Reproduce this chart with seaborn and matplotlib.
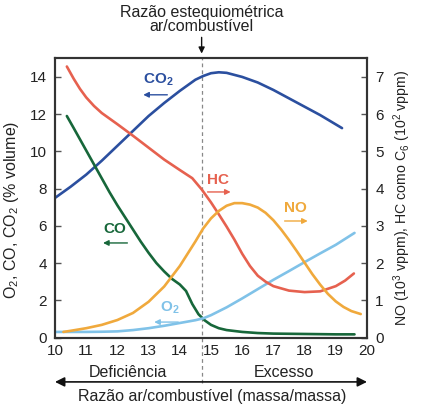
"""Gases de exaustão vs razão ar/combustível."""

import seaborn as sns
import matplotlib.pyplot as plt
import pandas as pd
import numpy as np

sns.set_theme(style="white")
plt.rcParams['font.family'] = ['Liberation Sans', 'DejaVu Sans']
plt.rcParams['mathtext.fontset'] = 'custom'
plt.rcParams['mathtext.rm'] = 'Liberation Sans'
plt.rcParams['mathtext.it'] = 'Liberation Sans:italic'
plt.rcParams['mathtext.bf'] = 'Liberation Sans:bold'

# ── dados ───────────────────────────────────────────────
# eixo esquerdo (% volume)
co2_x = [10.0, 10.5, 11.0, 11.5, 12.0, 12.5, 13.0, 13.5, 14.0, 14.5, 14.75,
         15.0, 15.25, 15.5, 16.0, 16.5, 17.0, 17.5, 18.0, 18.5, 19.0, 19.2]
co2_y = [7.5, 8.1, 8.75, 9.5, 10.3, 11.1, 11.9, 12.6, 13.25, 13.85, 14.05,
         14.2, 14.25, 14.22, 14.0, 13.7, 13.3, 12.85, 12.4, 11.95, 11.45, 11.25]

co_x = [10.38, 10.6, 10.8, 11.0, 11.25, 11.5, 11.75, 12.0, 12.25, 12.5, 12.75,
        13.0, 13.25, 13.5, 13.75, 14.0, 14.2, 14.4, 14.6, 14.8, 15.0, 15.25,
        15.5, 16.0, 16.5, 17.0, 18.0, 19.0, 19.6]
co_y = [11.9, 11.25, 10.65, 10.05, 9.3, 8.55, 7.8, 7.1, 6.45, 5.8, 5.15,
        4.55, 4.0, 3.55, 3.15, 2.85, 2.5, 1.8, 1.25, 0.92, 0.68, 0.5,
        0.4, 0.3, 0.24, 0.21, 0.19, 0.17, 0.17]

o2_x = [10.0, 10.5, 11.0, 11.5, 12.0, 12.5, 13.0, 13.5, 14.0, 14.5, 14.75,
        15.0, 15.5, 16.0, 16.5, 17.0, 17.5, 18.0, 18.5, 19.0, 19.6]
o2_y = [0.3, 0.3, 0.3, 0.31, 0.33, 0.4, 0.5, 0.63, 0.78, 0.93, 1.03,
        1.2, 1.62, 2.1, 2.6, 3.1, 3.57, 4.05, 4.52, 4.98, 5.62]

# eixo direito: HC (10^2 vppm) e NO (10^3 vppm)
hc_x = [10.38, 10.6, 10.8, 11.0, 11.25, 11.5, 12.0, 12.5, 13.0, 13.5, 14.0,
        14.4, 14.7, 15.0, 15.25, 15.5, 15.75, 16.0, 16.25, 16.5, 16.75, 17.0,
        17.5, 18.0, 18.5, 19.0, 19.3, 19.58]
hc_y = [7.28, 6.95, 6.68, 6.45, 6.22, 6.03, 5.73, 5.42, 5.1, 4.78, 4.5,
        4.28, 3.98, 3.63, 3.31, 2.98, 2.63, 2.25, 1.92, 1.66, 1.5, 1.38,
        1.26, 1.22, 1.24, 1.38, 1.53, 1.72]

no_x = [10.27, 10.5, 11.0, 11.5, 12.0, 12.5, 13.0, 13.5, 14.0, 14.5, 14.75,
        15.0, 15.25, 15.5, 15.75, 16.0, 16.25, 16.5, 16.75, 17.0, 17.25, 17.5,
        17.75, 18.0, 18.25, 18.5, 18.75, 19.0, 19.25, 19.5, 19.8]
no_y = [0.15, 0.18, 0.25, 0.34, 0.47, 0.66, 0.96, 1.37, 1.92, 2.58, 2.93,
        3.2, 3.4, 3.54, 3.61, 3.61, 3.57, 3.49, 3.35, 3.15, 2.9, 2.62,
        2.32, 2.01, 1.7, 1.42, 1.17, 0.97, 0.82, 0.71, 0.63]

stoich = 14.7

c_co2 = '#2b4f9f'
c_co = '#17673a'
c_o2 = '#80c2e8'
c_hc = '#e6614f'
c_no = '#f0a93c'

fig = plt.figure(figsize=(4.25, 4.11), dpi=100)
ax = fig.add_axes([0.1294, 0.1788, 0.7341, 0.6793])
ax2 = ax.twinx()

lw = 1.9
sns.lineplot(x=co2_x, y=co2_y, ax=ax, color=c_co2, lw=lw)
sns.lineplot(x=co_x, y=co_y, ax=ax, color=c_co, lw=lw)
sns.lineplot(x=o2_x, y=o2_y, ax=ax, color=c_o2, lw=lw)
sns.lineplot(x=hc_x, y=hc_y, ax=ax2, color=c_hc, lw=lw)
sns.lineplot(x=no_x, y=no_y, ax=ax2, color=c_no, lw=lw)

ax.set_xlim(10, 20)
ax.set_ylim(0, 15)
ax2.set_ylim(0, 7.5)
ax.set_xticks(range(10, 21))
ax.set_yticks(range(0, 15, 2))
ax2.set_yticks(range(0, 8))

for a in (ax, ax2):
    a.tick_params(direction='in', length=4, width=1, color='#555555',
                  labelsize=11, labelcolor='#222222')
    for s in a.spines.values():
        s.set_color('#333333')
        s.set_linewidth(1.5)
ax.tick_params(axis='y', pad=6)
ax.tick_params(axis='x', pad=5)
ax2.tick_params(axis='y', pad=6)

fig.text(12 / 425, 1 - 210 / 411, 'O$_2$, CO, CO$_2$ (% volume)',
         rotation=90, ha='center', va='center', fontsize=11.5,
         color='#222222')
fig.text(402 / 425, 1 - 198 / 411,
         'NO (10$^3$ vppm), HC como C$_6$ (10$^2$ vppm)',
         rotation=90, ha='center', va='center', fontsize=10.2,
         color='#222222')

# linha estequiométrica
ax.axvline(stoich, ymin=-0.163, ymax=1.0, clip_on=False, color='#888888',
           lw=0.9, ls=(0, (3, 2.5)), zorder=0)
trans = ('data', 'axes fraction')
ax.annotate('', xy=(stoich, 1.017), xytext=(stoich, 1.075),
            xycoords=trans, textcoords=trans,
            arrowprops=dict(arrowstyle='-|>', color='#111111', lw=1,
                            mutation_scale=9, shrinkA=0, shrinkB=0))
ax.text(stoich, 1.14, 'Razão estequiométrica\nar/combustível',
        transform=ax.get_xaxis_transform(), ha='center', va='center',
        fontsize=11.5, linespacing=0.95, color='#222222')

# rótulos das curvas
labels = [
    ('CO$_\\mathbf{2}$', 13.31, 13.84, c_co2, (13.6, 12.83, 13.04)),
    ('HC', 15.21, 8.47, c_hc, (14.89, 15.63, 7.82)),
    ('NO', 17.72, 6.96, c_no, (17.36, 18.10, 6.26)),
    ('CO', 11.91, 5.83, c_co, (12.32, 11.54, 5.08)),
    ('O$_\\mathbf{2}$', 13.68, 1.59, c_o2, (13.95, 13.18, 0.83)),
]
for txt, tx, ty, col, (x0, x1, ya) in labels:
    ax.text(tx, ty, txt, color=col, fontsize=11, fontweight='bold',
            ha='center', va='center')
    ax.annotate('', xy=(x1, ya), xytext=(x0, ya),
                arrowprops=dict(arrowstyle='-|>', color=col, lw=1,
                                mutation_scale=8, shrinkA=0, shrinkB=0))

# eixo inferior: deficiência / excesso
ax.annotate('', xy=(10, -0.159), xytext=(20, -0.159),
            xycoords=trans, textcoords=trans,
            arrowprops=dict(arrowstyle='<|-|>', color='#111111', lw=1.2,
                            mutation_scale=14, shrinkA=0, shrinkB=0))
ax.text(12.35, -0.127, 'Deficiência', transform=ax.get_xaxis_transform(),
        ha='center', va='center', fontsize=11.5, color='#222222')
ax.text(17.33, -0.127, 'Excesso', transform=ax.get_xaxis_transform(),
        ha='center', va='center', fontsize=11.5, color='#222222')
ax.text(15.04, -0.212, 'Razão ar/combustível (massa/massa)',
        transform=ax.get_xaxis_transform(), ha='center', va='center',
        fontsize=11.5, color='#222222')

plt.savefig('out.png', dpi=100)
plt.close()
